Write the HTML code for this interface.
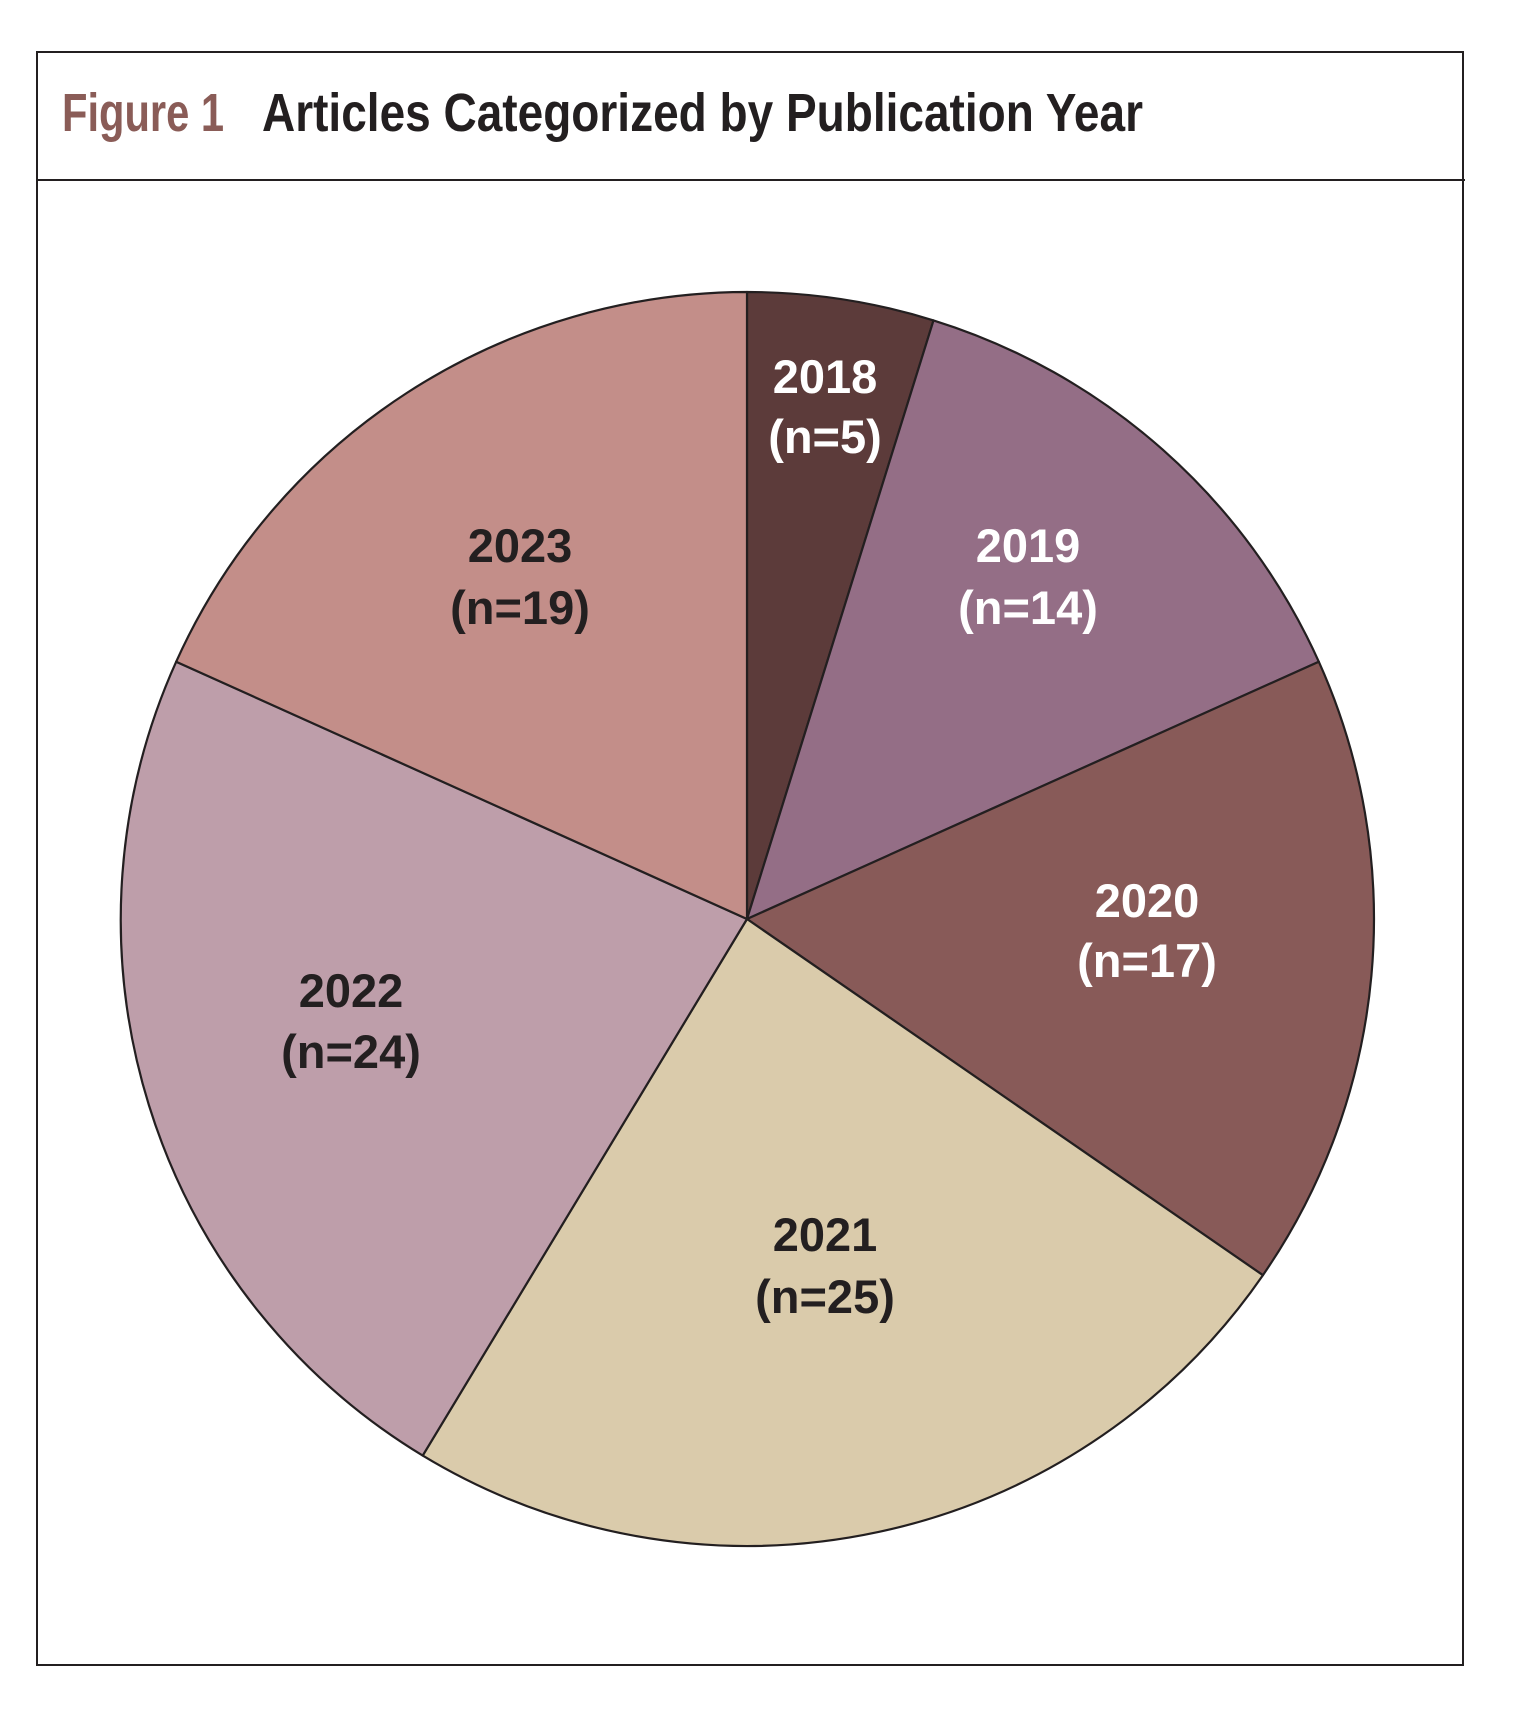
<!DOCTYPE html>
<html><head><meta charset="utf-8"><style>
html,body{margin:0;padding:0;background:#fff;}
svg{display:block;}
</style></head><body>
<svg width="1516" height="1710" viewBox="0 0 1516 1710" xmlns="http://www.w3.org/2000/svg">
<rect x="37" y="52" width="1426" height="1613" fill="#fff" stroke="#231f20" stroke-width="2"/>
<line x1="37" y1="180" x2="1465" y2="180" stroke="#231f20" stroke-width="2"/>
<text x="62" y="131" font-family="Liberation Sans, sans-serif" font-size="54" font-weight="bold" fill="#8a5c57" textLength="162" lengthAdjust="spacingAndGlyphs">Figure 1</text>
<text x="262" y="131" font-family="Liberation Sans, sans-serif" font-size="54" font-weight="bold" fill="#231f20" textLength="881" lengthAdjust="spacingAndGlyphs">Articles Categorized by Publication Year</text>
<g stroke="#231f20" stroke-width="2.2" stroke-linejoin="round">
<path d="M747,919 L747,292 A627,627 0 0 1 933.5,320.4 Z" fill="#5c3b3a"/>
<path d="M747,919 L933.5,320.4 A627,627 0 0 1 1318.8,661.7 Z" fill="#946e86"/>
<path d="M747,919 L1318.8,661.7 A627,627 0 0 1 1262.9,1275.2 Z" fill="#885a58"/>
<path d="M747,919 L1262.9,1275.2 A627,627 0 0 1 422.7,1455.6 Z" fill="#dacbab"/>
<path d="M747,919 L422.7,1455.6 A627,627 0 0 1 176.2,661.7 Z" fill="#be9eaa"/>
<path d="M747,919 L176.2,661.7 A627,627 0 0 1 747,292 Z" fill="#c38e89"/>
</g>
<g font-family="Liberation Sans, sans-serif" font-size="47" font-weight="bold" text-anchor="middle">
<text x="825" y="393" fill="#fff">2018</text>
<text x="825" y="453" fill="#fff">(n=5)</text>
<text x="1028" y="562" fill="#fff">2019</text>
<text x="1028" y="624" fill="#fff">(n=14)</text>
<text x="1147" y="917" fill="#fff">2020</text>
<text x="1147" y="977" fill="#fff">(n=17)</text>
<text x="825" y="1251" fill="#231f20">2021</text>
<text x="825" y="1313" fill="#231f20">(n=25)</text>
<text x="351" y="1007" fill="#231f20">2022</text>
<text x="351" y="1068" fill="#231f20">(n=24)</text>
<text x="520" y="562" fill="#231f20">2023</text>
<text x="520" y="624" fill="#231f20">(n=19)</text>
</g>
</svg>
</body></html>
